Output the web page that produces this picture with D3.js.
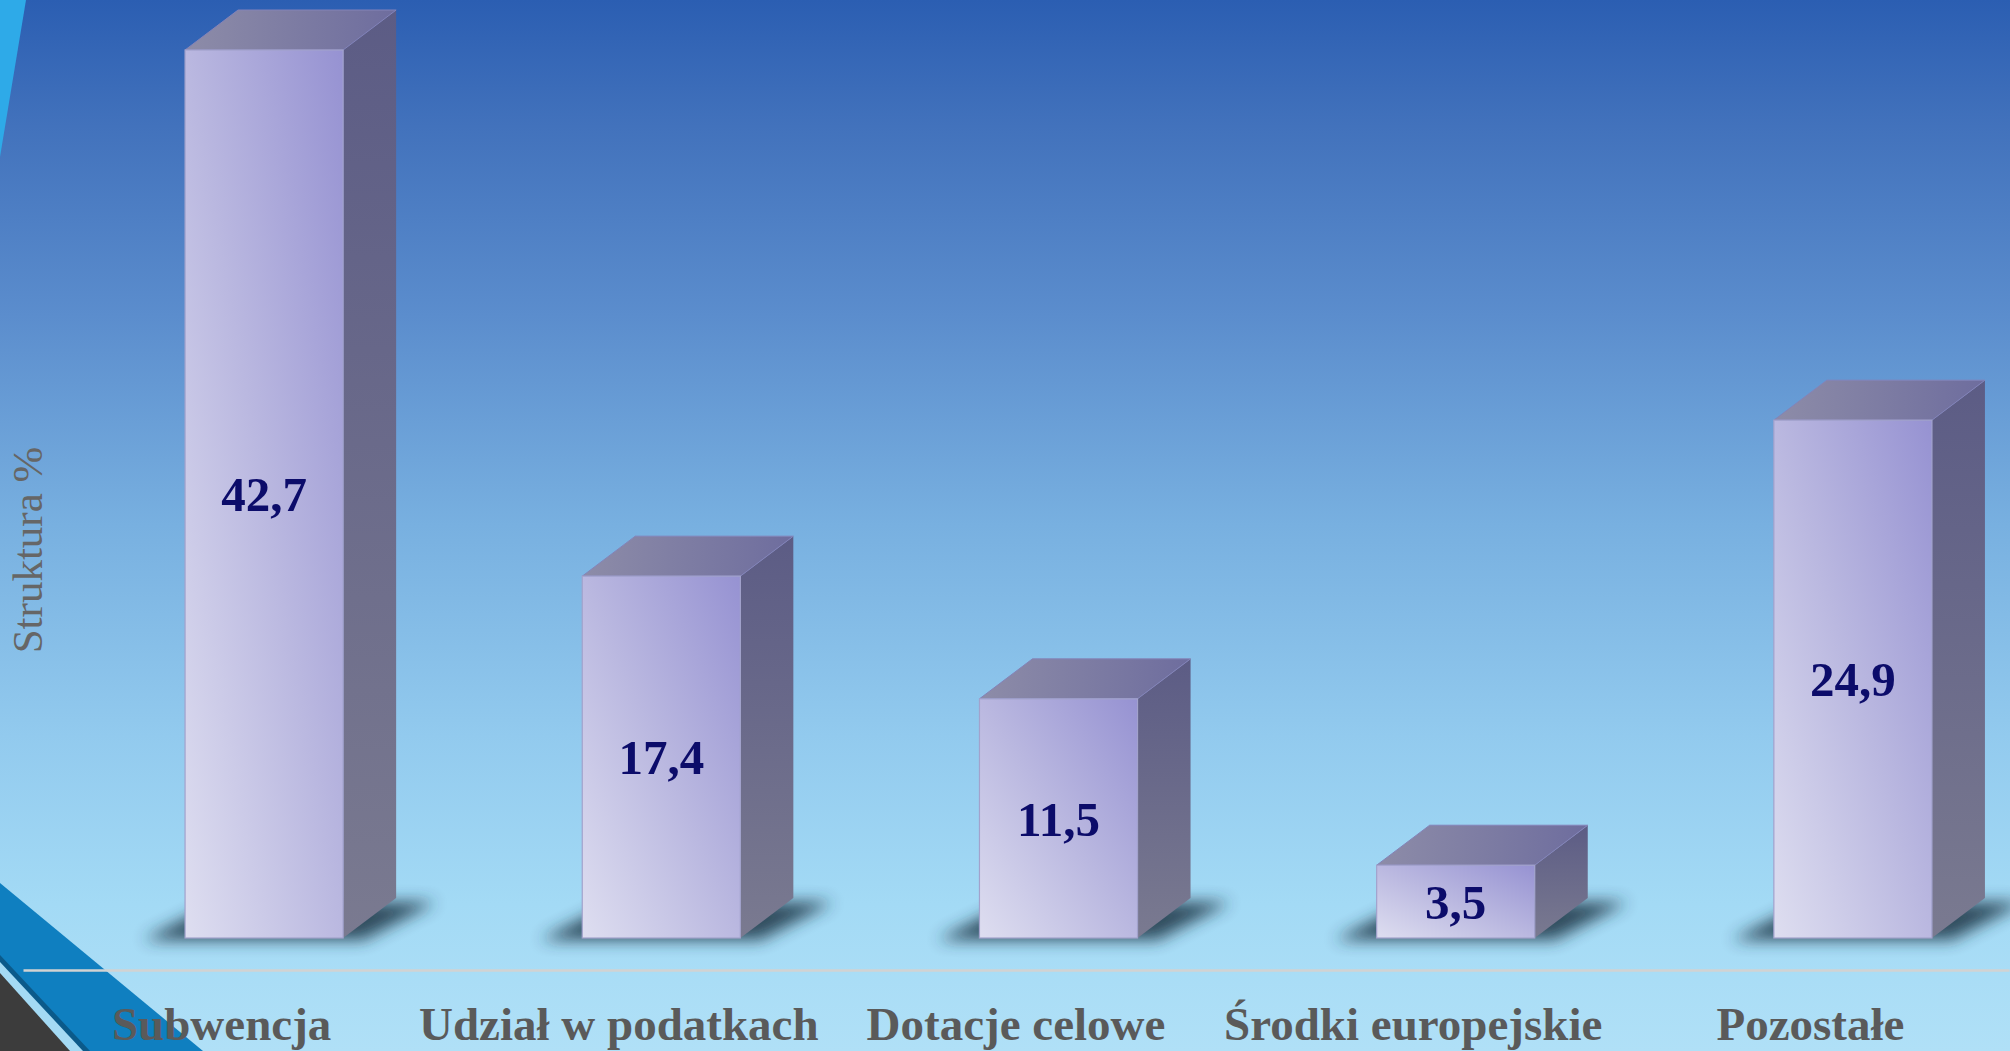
<!DOCTYPE html>
<html>
<head>
<meta charset="utf-8">
<script src="https://cdn.jsdelivr.net/npm/d3@7"></script>
<style>
  html, body { margin: 0; padding: 0; overflow: hidden; }
  svg { display: block; }
</style>
</head>
<body>
<div id="chart"></div>
<script>
// data
var categories = ["Subwencja", "Udział w podatkach", "Dotacje celowe", "Środki europejskie", "Pozostałe"];
var values = [42.7, 17.4, 11.5, 3.5, 24.9];
var yTitle = "Struktura %";

var svgWidth = 2010;
var svgHeight = 1051;

// floor of the bars and the axis line
var floorY = 938;
var axisY = 970;
var depthX = 53;
var depthY = -40;

var svg = d3.select("#chart").append("svg")
  .attr("width", svgWidth)
  .attr("height", svgHeight);

var defs = svg.append("defs");

// background gradient
var bg = defs.append("linearGradient")
  .attr("id", "bg")
  .attr("x1", 0).attr("y1", 0).attr("x2", 0).attr("y2", 1);
[[0, "#2b5eb2"], [0.12, "#4272bc"], [0.3, "#5b8dcd"], [0.5, "#78b0e0"],
 [0.7, "#92caee"], [0.86, "#a3daf5"], [1, "#b0e0f7"]].forEach(function(s) {
  bg.append("stop").attr("offset", s[0]).attr("stop-color", s[1]);
});

var front = defs.append("linearGradient")
  .attr("id", "front")
  .attr("x1", 0).attr("y1", 1).attr("x2", 1).attr("y2", 0);
front.append("stop").attr("offset", 0).attr("stop-color", "#dedef0");
front.append("stop").attr("offset", 0.5).attr("stop-color", "#bab8e0");
front.append("stop").attr("offset", 1).attr("stop-color", "#9692d2");

var top_ = defs.append("linearGradient")
  .attr("id", "top")
  .attr("x1", 0).attr("y1", 0).attr("x2", 1).attr("y2", 0);
top_.append("stop").attr("offset", 0).attr("stop-color", "#8d8ca8");
top_.append("stop").attr("offset", 1).attr("stop-color", "#6e6d9e");

var side = defs.append("linearGradient")
  .attr("id", "side")
  .attr("x1", 0).attr("y1", 0).attr("x2", 0).attr("y2", 1);
side.append("stop").attr("offset", 0).attr("stop-color", "#5c5c85");
side.append("stop").attr("offset", 1).attr("stop-color", "#7a7a90");

defs.append("filter")
  .attr("id", "blur")
  .attr("x", "-20%").attr("y", "-50%").attr("width", "140%").attr("height", "200%")
  .append("feGaussianBlur").attr("stdDeviation", 8);

svg.append("rect")
  .attr("width", svgWidth)
  .attr("height", svgHeight)
  .attr("fill", "url(#bg)");

// decorative corners
svg.append("polygon").attr("points", "0,0 26,0 0,157").attr("fill", "#2eaae8");
svg.append("polygon").attr("points", "0,883 203,1051 0,1051").attr("fill", "#0f7fc0");
svg.append("polygon").attr("points", "0,955 90,1051 0,1051").attr("fill", "#0b5a8a");
svg.append("polygon").attr("points", "0,962 83,1051 0,1051").attr("fill", "#a4daf4");
svg.append("polygon").attr("points", "0,973 70,1051 0,1051").attr("fill", "#3c3c3c");

// scales
var x = d3.scaleBand()
  .domain(categories)
  .range([23, 2009])
  .padding(0);

var y = d3.scaleLinear()
  .domain([0, 42.7])
  .range([floorY, 50]);

var bw = x.bandwidth();
var frontOffset = bw * 0.408;
var frontWidth = bw * 0.398;

var fmt = d3.formatLocale({decimal: ",", thousands: " ", grouping: [3], currency: ["", " zł"]}).format(".1f");

var data = categories.map(function(c, i) { return {cat: c, value: values[i]}; });

var bars = svg.selectAll(".bar")
  .data(data)
  .enter()
  .append("g")
  .attr("class", "bar");

// floor shadow
bars.append("polygon")
  .attr("fill", "#1f3444")
  .attr("opacity", 0.85)
  .attr("filter", "url(#blur)")
  .attr("points", function(d) {
    var x0 = x(d.cat) + frontOffset;
    var x1 = x0 + frontWidth;
    return [[x0 - 42, floorY + 2], [x1 + 20, floorY + 2],
            [x1 + depthX + 40, floorY + depthY + 4], [x0 + depthX - 20, floorY + depthY + 4]].join(" ");
  });

// side face
bars.append("polygon")
  .attr("fill", "url(#side)")
  .attr("points", function(d) {
    var x1 = x(d.cat) + frontOffset + frontWidth;
    var yt = y(d.value);
    return [[x1, yt], [x1 + depthX, yt + depthY], [x1 + depthX, floorY + depthY], [x1, floorY]].join(" ");
  });

// top face
bars.append("polygon")
  .attr("fill", "url(#top)")
  .attr("stroke", "#8483b8")
  .attr("stroke-width", 1)
  .attr("points", function(d) {
    var x0 = x(d.cat) + frontOffset;
    var x1 = x0 + frontWidth;
    var yt = y(d.value);
    return [[x0, yt], [x0 + depthX, yt + depthY], [x1 + depthX, yt + depthY], [x1, yt]].join(" ");
  });

// front face
bars.append("rect")
  .attr("x", function(d) { return x(d.cat) + frontOffset; })
  .attr("y", function(d) { return y(d.value); })
  .attr("width", frontWidth)
  .attr("height", function(d) { return floorY - y(d.value); })
  .attr("fill", "url(#front)")
  .attr("stroke", "#a2a2cc")
  .attr("stroke-width", 1.2);

// value labels
bars.append("text")
  .attr("x", function(d) { return x(d.cat) + frontOffset + frontWidth / 2; })
  .attr("y", function(d) { return (y(d.value) + floorY) / 2; })
  .attr("dy", "0.35em")
  .attr("text-anchor", "middle")
  .attr("font-family", "'Liberation Serif', 'DejaVu Serif', serif")
  .attr("font-weight", "bold")
  .attr("font-size", "49px")
  .attr("fill", "#0c0c6a")
  .text(function(d) { return fmt(d.value); });

// category axis
var xAxis = svg.append("g")
  .attr("transform", `translate(0, ${axisY})`)
  .call(d3.axisBottom(x).tickSize(0).tickPadding(0));

xAxis.select(".domain")
  .attr("stroke", "#d2d2d2")
  .attr("stroke-width", 2.5);

xAxis.selectAll("text")
  .attr("y", 70)
  .attr("dy", 0)
  .attr("font-family", "'Liberation Serif', 'DejaVu Serif', serif")
  .attr("font-weight", "bold")
  .attr("font-size", "47px")
  .attr("fill", "#5a5a5a");

// y title
svg.append("text")
  .attr("transform", "translate(42, 550) rotate(-90)")
  .attr("text-anchor", "middle")
  .attr("font-family", "'Liberation Serif', 'DejaVu Serif', serif")
  .attr("font-size", "43px")
  .attr("fill", "#666666")
  .text(yTitle);
</script>
</body>
</html>
